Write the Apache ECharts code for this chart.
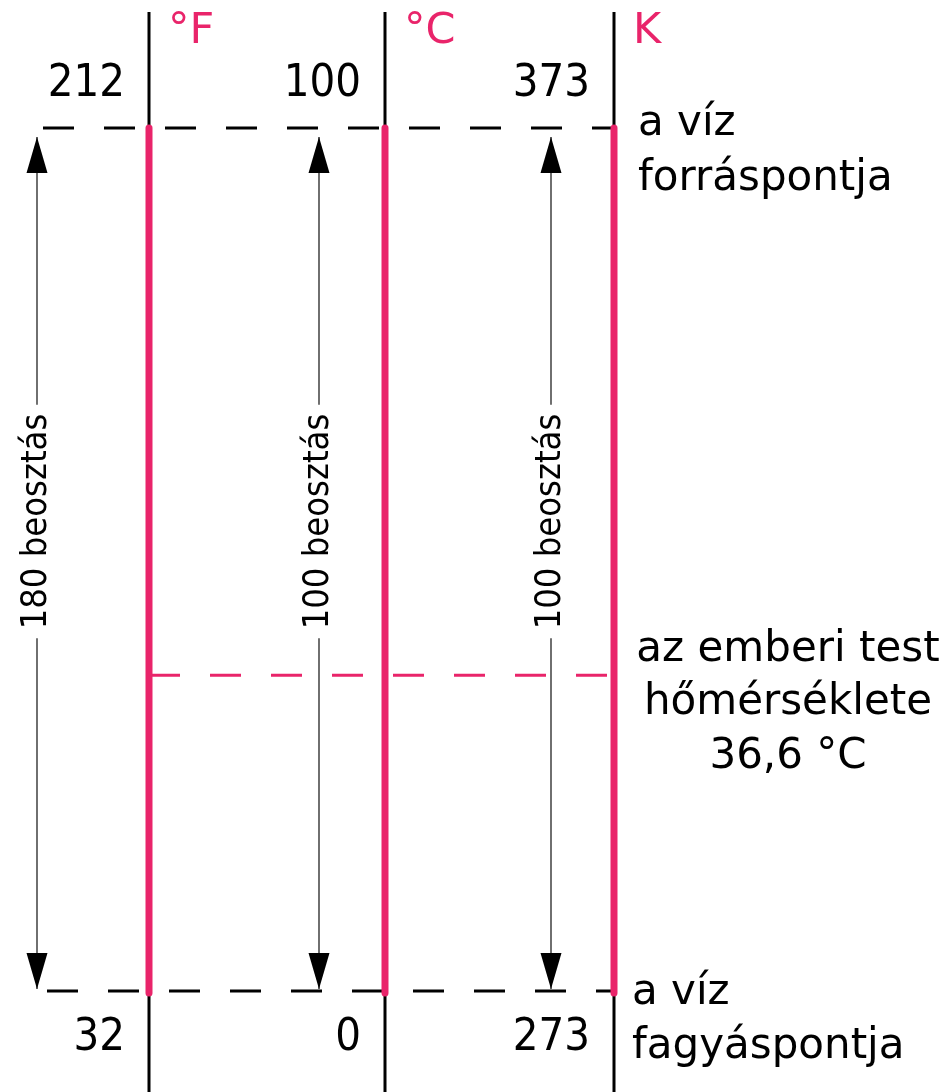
<!DOCTYPE html>
<html><head><meta charset="utf-8">
<script src="https://cdn.jsdelivr.net/npm/echarts@6/dist/echarts.min.js"></script>
<style>html,body{margin:0;padding:0;background:#fff}#chart{width:948px;height:1092px}</style>
</head><body><div id="chart"></div>
<script>
// ---- data ----
const scaleNames = ['°F', '°C', 'K'];
const boilingPoints = [212, 100, 373];
const freezingPoints = [32, 0, 273];
const divisionCounts = [180, 100, 100];
const divisionUnit = 'beosztás';
const bodyTemperatureC = 36.6;
const referenceLabels = ['a víz\nforráspontja', 'az emberi test\nhőmérséklete\n36,6 °C', 'a víz\nfagyáspontja'];

const toCelsius = { '°F': v => (v - 32) * 5 / 9, '°C': v => v, 'K': v => v - 273 };

// ---- layout / style ----
const PINK = '#e9246a';
const FONT = '"DejaVu Sans", sans-serif';
const FONT_C = '"DejaVu Sans Condensed", "DejaVu Sans", sans-serif';
const LAYOUT = {
  columnX: [149, 385, 614],
  arrowX: [37, 319, 551],
  refStartX: [43, 149, 47],
  refEndX: 614,
  refLabelX: [638, 788, 632],
  refLabelAlign: ['left', 'center', 'left'],
  refLabelDy: [-31, -52, -25],
  refLabelLH: [55, 53.5, 54]
};

const chart = echarts.init(document.getElementById('chart'), null, { renderer: 'canvas' });

function renderColumn(params, api) {
  const i = params.dataIndex;
  const name = scaleNames[i];
  const conv = toCelsius[name];
  const cx = LAYOUT.columnX[i];
  const top = api.coord([cx, conv(boilingPoints[i])]);
  const bot = api.coord([cx, conv(freezingPoints[i])]);
  const ax = LAYOUT.arrowX[i];
  const tipT = top[1] + 9, tipB = bot[1] - 2, hl = 36, hw = 10.5;
  const mid = (top[1] + bot[1]) / 2 - 38;
  return {
    type: 'group',
    children: [
      { type: 'line', shape: { x1: top[0], y1: 12, x2: top[0], y2: 1092 }, style: { stroke: '#000', lineWidth: 3 } },
      { type: 'line', shape: { x1: top[0], y1: top[1], x2: bot[0], y2: bot[1] + 2 }, style: { stroke: PINK, lineWidth: 7, lineCap: 'round' } },
      { type: 'text', x: top[0] + 19, y: top[1] - 96, style: { text: name, fill: PINK, font: '43px ' + FONT, align: 'left', verticalAlign: 'middle' } },
      { type: 'text', x: top[0] - 24, y: top[1] - 44, style: { text: String(boilingPoints[i]), fill: '#000', font: '45px ' + FONT_C, align: 'right', verticalAlign: 'middle' } },
      { type: 'text', x: bot[0] - 24, y: bot[1] + 47, style: { text: String(freezingPoints[i]), fill: '#000', font: '45px ' + FONT_C, align: 'right', verticalAlign: 'middle' } },
      { type: 'line', shape: { x1: ax, y1: tipT, x2: ax, y2: tipB }, style: { stroke: '#333', lineWidth: 1.4 } },
      { type: 'polygon', shape: { points: [[ax, tipT], [ax - hw, tipT + hl], [ax + hw, tipT + hl]] }, style: { fill: '#000' } },
      { type: 'polygon', shape: { points: [[ax, tipB], [ax - hw, tipB - hl], [ax + hw, tipB - hl]] }, style: { fill: '#000' } },
      { type: 'text', x: ax, y: mid, rotation: Math.PI / 2,
        style: { text: divisionCounts[i] + ' ' + divisionUnit, fill: '#000', font: '36px ' + FONT_C, align: 'center', verticalAlign: 'middle', backgroundColor: '#fff', padding: [0, 9] } }
    ]
  };
}

const refValues = [
  toCelsius['°C'](boilingPoints[1]),
  bodyTemperatureC,
  toCelsius['°C'](freezingPoints[1])
];

function renderRef(params, api) {
  const i = params.dataIndex;
  const p1 = api.coord([LAYOUT.refStartX[i], refValues[i]]);
  const p2 = api.coord([LAYOUT.refEndX, refValues[i]]);
  const color = i === 1 ? PINK : '#000';
  return {
    type: 'group',
    children: [
      { type: 'line', shape: { x1: p1[0], y1: p1[1], x2: p2[0], y2: p2[1] }, style: { stroke: color, lineWidth: 3, lineDash: [31, 30], lineCap: 'butt' } },
      { type: 'text', x: LAYOUT.refLabelX[i], y: p1[1] + LAYOUT.refLabelDy[i],
        style: { text: referenceLabels[i], fill: '#000', font: '42px ' + FONT, align: LAYOUT.refLabelAlign[i], verticalAlign: 'top', lineHeight: LAYOUT.refLabelLH[i] } }
    ]
  };
}

chart.setOption({
  animation: false,
  backgroundColor: '#fff',
  grid: { left: 0, right: 0, top: 128, bottom: 101 },
  xAxis: { type: 'value', min: 0, max: 948, show: false },
  yAxis: { type: 'value', min: 0, max: 100, show: false },
  series: [
    { type: 'custom', name: 'ref', clip: false, z: 1, renderItem: renderRef, data: refValues.map((v, i) => [i, v]) },
    { type: 'custom', name: 'scales', clip: false, z: 2, renderItem: renderColumn, data: scaleNames.map((n, i) => [i]) }
  ]
});
</script></body></html>
